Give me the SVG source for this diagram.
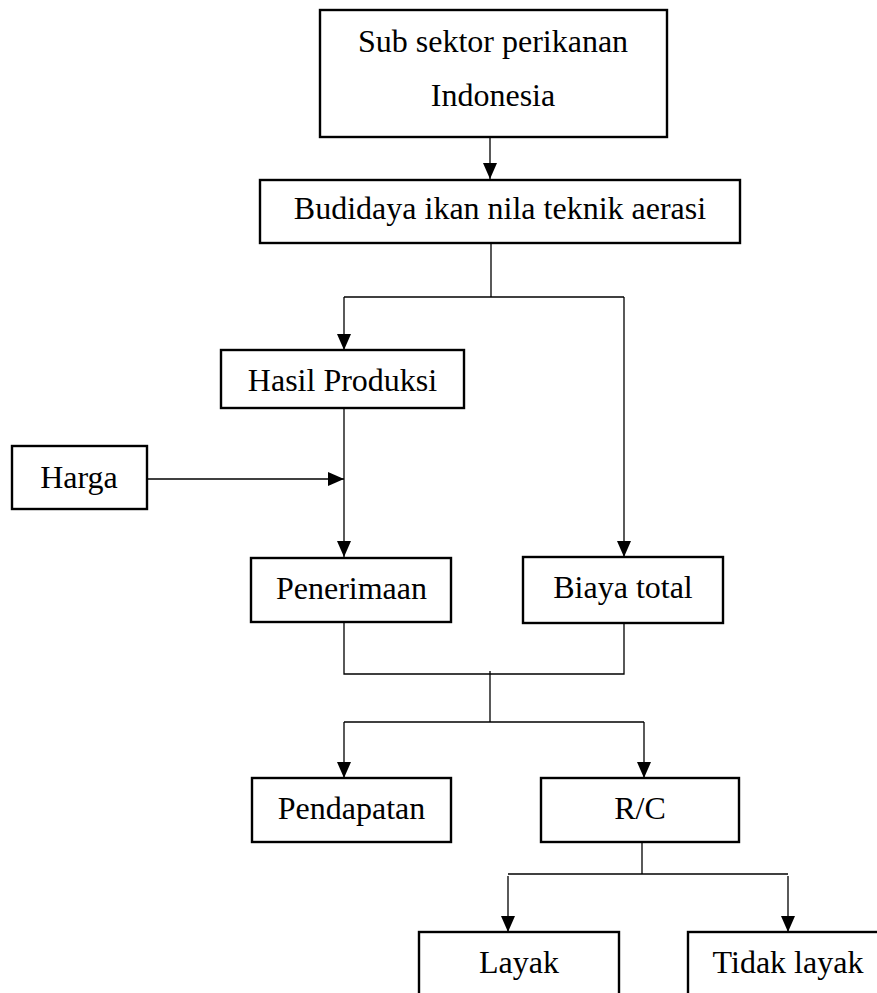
<svg xmlns="http://www.w3.org/2000/svg" width="877" height="993" viewBox="0 0 877 993">
<style>
.box{fill:#fff;stroke:#000;stroke-width:2.4}
.lbl{font-family:"Liberation Serif","Times New Roman",serif;font-size:32px;fill:#000;text-anchor:middle}
.ln{fill:none;stroke:#000;stroke-width:1.3}
</style>
<defs>
<marker id="ah" markerUnits="userSpaceOnUse" markerWidth="16" markerHeight="16" viewBox="0 0 16 16" refX="16" refY="8" orient="auto">
<polygon points="0,1 16,8 0,15" fill="#000"/>
</marker>
</defs>
<rect width="877" height="993" fill="#fff"/>
<g id="connectors">
<line class="ln" x1="490" y1="137" x2="490" y2="179" marker-end="url(#ah)"/>
<polyline class="ln" points="491,243 491,297"/>
<polyline class="ln" points="344,297 624,297"/>
<line class="ln" x1="344" y1="297" x2="344" y2="350" marker-end="url(#ah)"/>
<line class="ln" x1="624" y1="297" x2="624" y2="557" marker-end="url(#ah)"/>
<line class="ln" x1="344" y1="408" x2="344" y2="557" marker-end="url(#ah)"/>
<line class="ln" x1="147" y1="479" x2="344" y2="479" marker-end="url(#ah)"/>
<polyline class="ln" points="344,622 344,674 624,674 624,623"/>
<line class="ln" x1="490" y1="671" x2="490" y2="722"/>
<line class="ln" x1="344" y1="722" x2="644" y2="722"/>
<line class="ln" x1="344" y1="722" x2="344" y2="778" marker-end="url(#ah)"/>
<line class="ln" x1="644" y1="722" x2="644" y2="778" marker-end="url(#ah)"/>
<line class="ln" x1="642" y1="842" x2="642" y2="874"/>
<line class="ln" x1="508" y1="874" x2="788" y2="874"/>
<line class="ln" x1="508" y1="876" x2="508" y2="932" marker-end="url(#ah)"/>
<line class="ln" x1="788" y1="876" x2="788" y2="932" marker-end="url(#ah)"/>
</g>
<g id="sub-sektor">
<rect class="box" x="320" y="10" width="347" height="127"/>
<text class="lbl" x="493" y="52">Sub sektor perikanan</text>
<text class="lbl" x="493" y="106">Indonesia</text>
</g>
<g id="budidaya">
<rect class="box" x="260" y="180" width="480" height="63"/>
<text class="lbl" x="500" y="219">Budidaya ikan nila teknik aerasi</text>
</g>
<g id="hasil-produksi">
<rect class="box" x="221" y="350" width="243" height="58"/>
<text class="lbl" x="342.5" y="391">Hasil Produksi</text>
</g>
<g id="harga">
<rect class="box" x="12" y="446" width="135" height="63"/>
<text class="lbl" x="79" y="488">Harga</text>
</g>
<g id="penerimaan">
<rect class="box" x="251" y="558" width="200" height="64"/>
<text class="lbl" x="351.5" y="599">Penerimaan</text>
</g>
<g id="biaya-total">
<rect class="box" x="523" y="557" width="200" height="66"/>
<text class="lbl" x="623" y="598">Biaya total</text>
</g>
<g id="pendapatan">
<rect class="box" x="252" y="778" width="199" height="64"/>
<text class="lbl" x="351.5" y="819">Pendapatan</text>
</g>
<g id="rc">
<rect class="box" x="541" y="778" width="198" height="64"/>
<text class="lbl" x="640" y="819">R/C</text>
</g>
<g id="layak">
<rect class="box" x="419" y="932" width="200" height="80"/>
<text class="lbl" x="519" y="973">Layak</text>
</g>
<g id="tidak-layak">
<rect class="box" x="688" y="932" width="200" height="80"/>
<text class="lbl" x="788" y="973">Tidak layak</text>
</g>
</svg>
